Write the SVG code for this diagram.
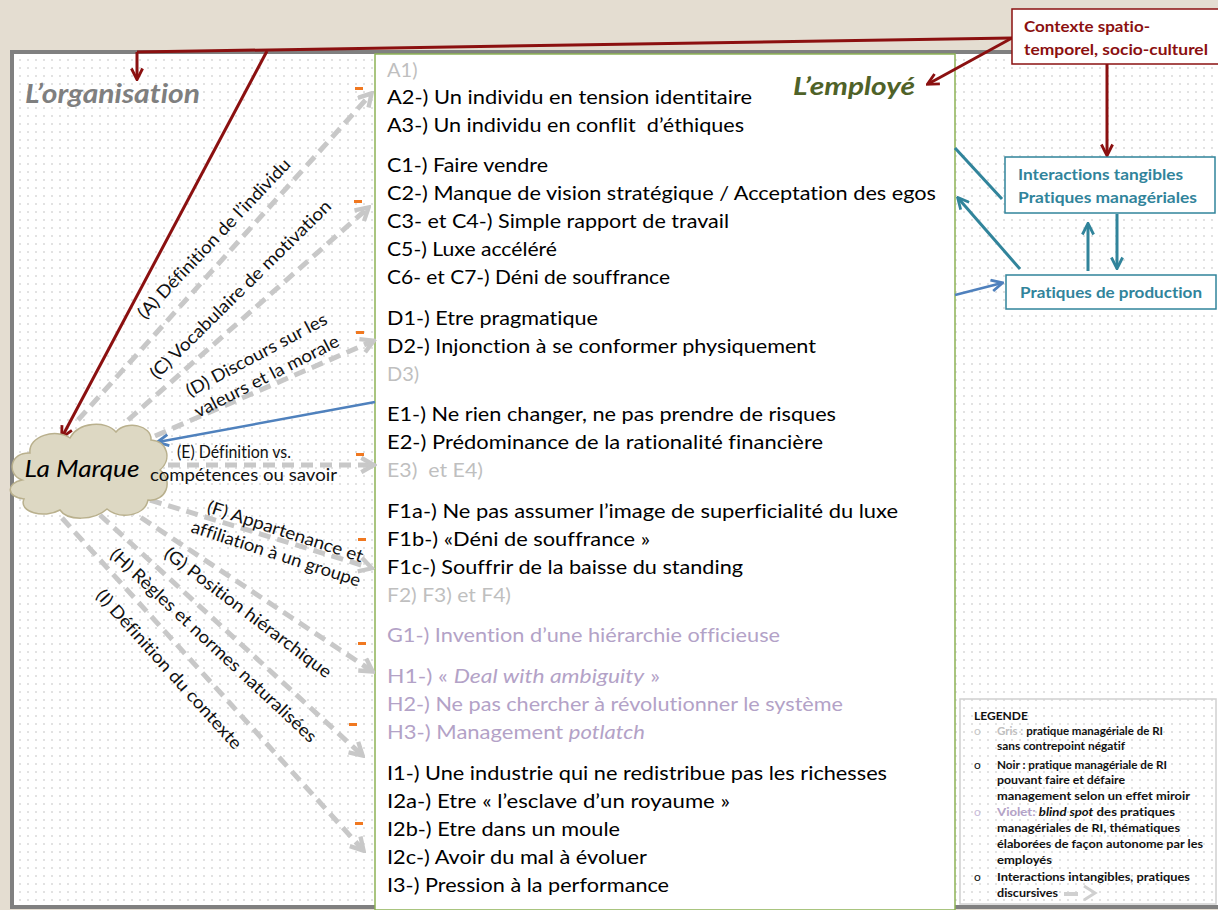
<svg xmlns="http://www.w3.org/2000/svg" width="1218" height="910" viewBox="0 0 1218 910">
<style>
text{font-variant-ligatures:none}
.t{font-family:Lato,"Liberation Sans",sans-serif;font-size:20px;fill:#000}
.g{fill:#BFBFBF}
.v{fill:#B3A2C7}
.lab{font-family:Lato,"Liberation Sans",sans-serif;font-size:17.5px;fill:#111}
.lg{font-family:Lato,"Liberation Sans",sans-serif;font-size:12px;font-weight:bold;fill:#111}
.bx{font-family:Lato,"Liberation Sans",sans-serif;font-size:16px;font-weight:bold}
.red{stroke:#8B1010;stroke-width:3;fill:none}
.teal{stroke:#31849B;stroke-width:3;fill:none}
.blue{stroke:#4F81BD;stroke-width:2.5;fill:none}
.gd{stroke:#C8C8C8;stroke-width:5;stroke-dasharray:12 7;fill:none}
.or{fill:#F07820}
</style>
<defs>
<pattern id="dots" width="8" height="8" patternUnits="userSpaceOnUse"><rect width="8" height="8" fill="#fff"/><circle cx="4" cy="4" r="0.75" fill="#b8b8b8"/></pattern>
<marker id="mr" viewBox="0 0 10 10" refX="8.5" refY="5" markerWidth="14" markerHeight="14" markerUnits="userSpaceOnUse" orient="auto"><path d="M1,1 L9,5 L1,9" fill="none" stroke="#8B1010" stroke-width="2"/></marker>
<marker id="mt" viewBox="0 0 10 10" refX="8.5" refY="5" markerWidth="14" markerHeight="14" markerUnits="userSpaceOnUse" orient="auto"><path d="M1,1 L9,5 L1,9" fill="none" stroke="#31849B" stroke-width="2"/></marker>
<marker id="mb" viewBox="0 0 10 10" refX="8.5" refY="5" markerWidth="14" markerHeight="14" markerUnits="userSpaceOnUse" orient="auto"><path d="M1,1 L9,5 L1,9" fill="none" stroke="#4F81BD" stroke-width="2"/></marker>
<marker id="mg" viewBox="0 0 10 10" refX="8" refY="5" markerWidth="18" markerHeight="18" markerUnits="userSpaceOnUse" orient="auto"><path d="M1.5,1 L8.5,5 L1.5,9" fill="none" stroke="#C8C8C8" stroke-width="2.4"/></marker>
</defs>
<rect width="1218" height="910" fill="#E4DDD1"/>
<rect x="12" y="52" width="1215" height="855" fill="url(#dots)" stroke="#808080" stroke-width="4"/>
<g id="employe-panel">
<rect x="375" y="54" width="580" height="856" fill="#fff" stroke="#8DB255" stroke-width="1.5"/>
<text x="793" y="95" font-family="Lato,'Liberation Sans',sans-serif" font-size="25" font-weight="bold" font-style="italic" fill="#4F6228" textLength="122" lengthAdjust="spacingAndGlyphs">L’employé</text>
</g>
<g id="organisation-title">
<text x="25" y="103" font-family="Lato,'Liberation Sans',sans-serif" font-size="26" font-weight="bold" font-style="italic" fill="#7F7F7F" textLength="175" lengthAdjust="spacingAndGlyphs">L’organisation</text>
</g>
<g id="items">
<text class="t g" x="387" y="77">A1)</text>
<text class="t" x="387" y="104" textLength="365" lengthAdjust="spacingAndGlyphs">A2-) Un individu en tension identitaire</text>
<text class="t" x="387" y="132" textLength="357" lengthAdjust="spacingAndGlyphs" xml:space="preserve">A3-) Un individu en conflit  d’éthiques</text>
<text class="t" x="387" y="172" textLength="161" lengthAdjust="spacingAndGlyphs">C1-) Faire vendre</text>
<text class="t" x="387" y="200" textLength="549" lengthAdjust="spacingAndGlyphs">C2-) Manque de vision stratégique / Acceptation des egos</text>
<text class="t" x="387" y="228" textLength="342" lengthAdjust="spacingAndGlyphs">C3- et C4-) Simple rapport de travail</text>
<text class="t" x="387" y="256" textLength="170" lengthAdjust="spacingAndGlyphs">C5-) Luxe accéléré</text>
<text class="t" x="387" y="284" textLength="283" lengthAdjust="spacingAndGlyphs">C6- et C7-) Déni de souffrance</text>
<text class="t" x="387" y="325" textLength="211" lengthAdjust="spacingAndGlyphs">D1-) Etre pragmatique</text>
<text class="t" x="387" y="353" textLength="429" lengthAdjust="spacingAndGlyphs">D2-) Injonction à se conformer physiquement</text>
<text class="t g" x="387" y="381">D3)</text>
<text class="t" x="387" y="421" textLength="449" lengthAdjust="spacingAndGlyphs">E1-) Ne rien changer, ne pas prendre de risques</text>
<text class="t" x="387" y="449" textLength="436" lengthAdjust="spacingAndGlyphs">E2-) Prédominance de la rationalité financière</text>
<text class="t g" x="387" y="477" textLength="96" lengthAdjust="spacingAndGlyphs" xml:space="preserve">E3)  et E4)</text>
<text class="t" x="387" y="518" textLength="511" lengthAdjust="spacingAndGlyphs">F1a-) Ne pas assumer l’image de superficialité du luxe</text>
<text class="t" x="387" y="546" textLength="263" lengthAdjust="spacingAndGlyphs">F1b-) «Déni de souffrance »</text>
<text class="t" x="387" y="574" textLength="356" lengthAdjust="spacingAndGlyphs">F1c-) Souffrir de la baisse du standing</text>
<text class="t g" x="387" y="602" textLength="124" lengthAdjust="spacingAndGlyphs">F2) F3) et F4)</text>
<text class="t v" x="387" y="642" textLength="393" lengthAdjust="spacingAndGlyphs">G1-) Invention d’une hiérarchie officieuse</text>
<text class="t v" x="387" y="683" textLength="273" lengthAdjust="spacingAndGlyphs">H1-) « <tspan font-style="italic">Deal with ambiguity</tspan> »</text>
<text class="t v" x="387" y="711" textLength="456" lengthAdjust="spacingAndGlyphs">H2-) Ne pas chercher à révolutionner le système</text>
<text class="t v" x="387" y="739" textLength="258" lengthAdjust="spacingAndGlyphs">H3-) Management <tspan font-style="italic">potlatch</tspan></text>
<text class="t" x="387" y="780" textLength="500" lengthAdjust="spacingAndGlyphs">I1-) Une industrie qui ne redistribue pas les richesses</text>
<text class="t" x="387" y="808" textLength="343" lengthAdjust="spacingAndGlyphs">I2a-) Etre « l’esclave d’un royaume »</text>
<text class="t" x="387" y="836" textLength="233" lengthAdjust="spacingAndGlyphs">I2b-) Etre dans un moule</text>
<text class="t" x="387" y="864" textLength="260" lengthAdjust="spacingAndGlyphs">I2c-) Avoir du mal à évoluer</text>
<text class="t" x="387" y="892" textLength="282" lengthAdjust="spacingAndGlyphs">I3-) Pression à la performance</text>
</g>
<g id="orange-marks">
<rect class="or" x="355" y="87" width="8" height="3"/>
<rect class="or" x="354" y="200" width="8" height="3"/>
<rect class="or" x="356" y="331" width="8" height="3"/>
<rect class="or" x="356" y="453" width="8" height="3"/>
<rect class="or" x="358" y="538" width="8" height="3"/>
<rect class="or" x="358" y="642" width="8" height="3"/>
<rect class="or" x="349" y="723" width="8" height="3"/>
<rect class="or" x="355" y="822" width="8" height="3"/>
</g>
<g id="connectors">
<path class="gd" d="M78,420 L371,94" marker-end="url(#mg)"/>
<path class="gd" d="M128,420 L368,208" marker-end="url(#mg)"/>
<path class="gd" d="M155,436 L373,341" marker-end="url(#mg)"/>
<path class="gd" d="M168,465 L373,465" marker-end="url(#mg)"/>
<path class="gd" d="M150,500 L371,568" marker-end="url(#mg)"/>
<path class="gd" d="M125,507 L372,671" marker-end="url(#mg)"/>
<path class="gd" d="M100,515 L362,755" marker-end="url(#mg)"/>
<path class="gd" d="M62,518 L363,850" marker-end="url(#mg)"/>
<path class="red" d="M1012,38 L137,52"/>
<path class="red" d="M137,52 L137,79" marker-end="url(#mr)"/>
<path class="red" d="M267,51 L62,437" marker-end="url(#mr)"/>
<path class="red" d="M1012,38 L928,84" marker-end="url(#mr)"/>
<path class="red" d="M1107,64 L1107,155" marker-end="url(#mr)"/>
<path class="blue" d="M375,402 L158,442" marker-end="url(#mb)"/>
<path class="blue" d="M955,295 L1002,283" marker-end="url(#mb)"/>
<path class="teal" d="M1002,199 L955,148"/>
<path class="teal" d="M1020,269 L958,198" marker-end="url(#mt)"/>
<path class="teal" d="M1088,271 L1088,224" marker-end="url(#mt)"/>
<path class="teal" d="M1117,214 L1117,268" marker-end="url(#mt)"/>
</g>
<g id="la-marque">
<path d="M22,480 C6,474 10,452 30,453 C28,436 56,428 70,438 C78,422 106,420 116,432 C126,420 152,425 151,440 C168,441 172,460 160,470 C174,481 166,502 148,500 C145,516 120,520 107,509 C94,521 67,521 60,510 C44,519 18,512 24,499 C6,497 6,483 22,480 Z" fill="#DDD8C3" stroke="#B9B08D" stroke-width="1.5"/>
<text x="82" y="477" text-anchor="middle" font-family="Lato,'Liberation Sans',sans-serif" font-size="24" font-style="italic" fill="#000" textLength="115" lengthAdjust="spacingAndGlyphs">La Marque</text>
</g>
<g id="arrow-labels">
<text class="lab" transform="translate(145,320) rotate(-46.5)" textLength="213" lengthAdjust="spacingAndGlyphs">(A) Définition de l’individu</text>
<text class="lab" transform="translate(157,380) rotate(-44.5)" textLength="246" lengthAdjust="spacingAndGlyphs">(C) Vocabulaire de motivation</text>
<text class="lab" transform="translate(190,397) rotate(-28)" textLength="157" lengthAdjust="spacingAndGlyphs">(D) Discours sur les</text>
<text class="lab" transform="translate(198,418) rotate(-27)" textLength="160" lengthAdjust="spacingAndGlyphs">valeurs et la morale</text>
<text class="lab" x="177" y="458" textLength="114" lengthAdjust="spacingAndGlyphs">(E) Définition vs.</text>
<text class="lab" x="150" y="481" textLength="187" lengthAdjust="spacingAndGlyphs">compétences ou savoir</text>
<text class="lab" transform="translate(206,512) rotate(18)" textLength="163" lengthAdjust="spacingAndGlyphs">(F) Appartenance et</text>
<text class="lab" transform="translate(190,532) rotate(18)" textLength="177" lengthAdjust="spacingAndGlyphs">affiliation à un groupe</text>
<text class="lab" transform="translate(163,556) rotate(37)" textLength="204" lengthAdjust="spacingAndGlyphs">(G) Position hiérarchique</text>
<text class="lab" transform="translate(109,556) rotate(43)" textLength="275" lengthAdjust="spacingAndGlyphs">(H) Règles et normes naturalisées</text>
<text class="lab" transform="translate(95,596) rotate(48)" textLength="208" lengthAdjust="spacingAndGlyphs">(I) Définition du contexte</text>
</g>
<g id="contexte">
<rect x="1012" y="9" width="215" height="55" fill="#fff" stroke="#8B1010" stroke-width="1.5"/>
<text class="bx" fill="#8B1010"><tspan x="1024" y="32" textLength="126" lengthAdjust="spacingAndGlyphs">Contexte spatio-</tspan><tspan x="1024" y="55" textLength="184" lengthAdjust="spacingAndGlyphs">temporel, socio-culturel</tspan></text>
</g>
<g id="interactions">
<rect x="1005" y="157" width="210" height="56" fill="#fff" stroke="#31849B" stroke-width="1.5"/>
<text class="bx" fill="#31849B"><tspan x="1018" y="180" textLength="165" lengthAdjust="spacingAndGlyphs">Interactions tangibles</tspan><tspan x="1018" y="203" textLength="179" lengthAdjust="spacingAndGlyphs">Pratiques managériales</tspan></text>
</g>
<g id="production">
<rect x="1006" y="275" width="210" height="34" fill="#fff" stroke="#31849B" stroke-width="1.5"/>
<text class="bx" x="1020" y="298" fill="#31849B" textLength="182" lengthAdjust="spacingAndGlyphs">Pratiques de production</text>
</g>
<g id="legende">
<rect x="960" y="699" width="256" height="205" fill="none" stroke="#D0D0D0" stroke-width="1.5"/>
<text class="lg" x="974" y="720">LEGENDE</text>
<text class="lg" x="974" y="735" style="fill:#C8C8C8;font-weight:normal">o</text>
<text class="lg" x="997" y="735" textLength="166" lengthAdjust="spacingAndGlyphs"><tspan style="fill:#BFBFBF">Gris :</tspan> pratique managériale de RI</text>
<text class="lg" x="997" y="750" textLength="128" lengthAdjust="spacingAndGlyphs">sans contrepoint négatif</text>
<text class="lg" x="974" y="769" style="font-weight:normal">o</text>
<text class="lg" x="997" y="769" textLength="170" lengthAdjust="spacingAndGlyphs">Noir : pratique managériale de RI</text>
<text class="lg" x="997" y="784" textLength="128" lengthAdjust="spacingAndGlyphs">pouvant faire et défaire</text>
<text class="lg" x="997" y="800" textLength="193" lengthAdjust="spacingAndGlyphs">management selon un effet miroir</text>
<text class="lg" x="974" y="816" style="fill:#C9BCDA;font-weight:normal">o</text>
<text class="lg" x="997" y="816" textLength="178" lengthAdjust="spacingAndGlyphs"><tspan style="fill:#B3A2C7">Violet:</tspan> <tspan font-style="italic">blind spot</tspan> des pratiques</text>
<text class="lg" x="997" y="832" textLength="183" lengthAdjust="spacingAndGlyphs">managériales de RI, thématiques</text>
<text class="lg" x="997" y="848" textLength="206" lengthAdjust="spacingAndGlyphs">élaborées de façon autonome par les</text>
<text class="lg" x="997" y="864" textLength="55" lengthAdjust="spacingAndGlyphs">employés</text>
<text class="lg" x="974" y="881" style="font-weight:normal">o</text>
<text class="lg" x="997" y="881" textLength="193" lengthAdjust="spacingAndGlyphs">Interactions intangibles, pratiques</text>
<text class="lg" x="997" y="897" textLength="61" lengthAdjust="spacingAndGlyphs">discursives</text>
<path d="M1064,894 L1078,894" stroke="#D0D0D0" stroke-width="4"/>
<path d="M1084,886 L1095,893 L1084,900" stroke="#D0D0D0" stroke-width="3" fill="none"/>
</g>
</svg>
